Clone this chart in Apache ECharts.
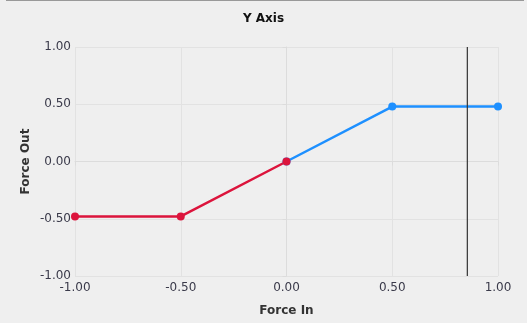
<!DOCTYPE html>
<html><head><meta charset="utf-8">
<script src="https://cdn.jsdelivr.net/npm/echarts@6/dist/echarts.min.js"></script>
<style>html,body{margin:0;padding:0;background:#efefef;}#c{width:527px;height:323px;}</style>
</head><body><div id="c"></div>
<script>
const titleText = "Y Axis";
const xName = "Force In";
const yName = "Force Out";
const negX = [-1, -0.5, 0];
const negY = [-0.48, -0.48, 0];
const posX = [0, 0.5, 1];
const posY = [0, 0.48, 0.48];
const cursorX = 0.855;
const axisMin = -1, axisMax = 1, axisStep = 0.5;

const chart = echarts.init(document.getElementById('c'), null, {renderer: 'canvas'});
const font = 'DejaVu Sans';
const axisCommon = {
  min: axisMin, max: axisMax, interval: axisStep,
  axisLine: {show: true, lineStyle: {color: '#dcdcdc', width: 1}},
  axisTick: {show: true, length: 4, lineStyle: {color: '#dcdcdc'}},
  splitLine: {show: true, lineStyle: {color: '#e2e2e2', width: 1}},
  axisLabel: {color: '#3a3a4a', fontFamily: font, fontSize: 12, formatter: v => v.toFixed(2)},
  nameLocation: 'middle',
  nameMoveOverlap: false,
  nameTextStyle: {color: '#333', fontFamily: font, fontSize: 12, fontWeight: 'bold'}
};
chart.setOption({
  backgroundColor: '#efefef',
  animation: false,
  title: {text: titleText, left: 'center', top: 8, textStyle: {fontFamily: font, fontSize: 12, fontWeight: 'bold', color: '#111'}},
  grid: {left: 75, right: 29, top: 47, bottom: 47},
  xAxis: Object.assign({type: 'value', name: xName, nameGap: 29}, axisCommon, {axisLabel: Object.assign({}, axisCommon.axisLabel, {margin: 6})}),
  yAxis: Object.assign({type: 'value', name: yName, nameGap: 43}, axisCommon, {axisLabel: Object.assign({}, axisCommon.axisLabel, {margin: 4})}),
  graphic: [{type: 'line', shape: {x1: 6, y1: 0.5, x2: 524, y2: 0.5}, style: {stroke: '#999', lineWidth: 1}}],
  series: [
    {type: 'line', data: posX.map((x, i) => [x, posY[i]]), color: '#1e90ff', lineStyle: {width: 2.5}, symbol: 'circle', symbolSize: 8, z: 3},
    {type: 'line', data: negX.map((x, i) => [x, negY[i]]), color: '#dc143c', lineStyle: {width: 2.5}, symbol: 'circle', symbolSize: 8, z: 3},
    {type: 'line', data: [[cursorX, axisMin], [cursorX, axisMax]], color: '#333', lineStyle: {width: 1.2}, symbol: 'none', z: 4}
  ]
});
</script></body></html>
